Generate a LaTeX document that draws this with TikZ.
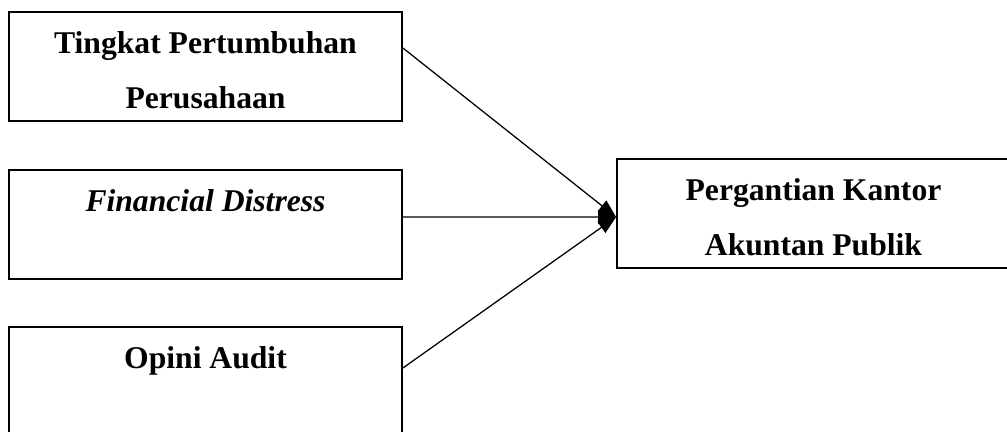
\documentclass[tikz,border=0pt]{standalone}
\usepackage{fontspec}
\setmainfont{Liberation Serif}
\usetikzlibrary{arrows.meta,calc}
\newcommand{\tailstrut}{\rule[-6.7pt]{0pt}{20pt}}
\begin{document}
\begin{tikzpicture}[x=0.025cm,y=-0.025cm,
	varbox/.style={ draw, line width=1.2pt, minimum width=9.825cm, minimum height=2.725cm, inner sep=0pt, align=center, font=\fontsize{22.5}{39}\selectfont\bfseries },
	link/.style={ line width=0.9pt, -{Triangle[length=4.5mm,width=3.4mm]} }
]
\useasboundingbox (0,0) rectangle (1007,432);

\node[varbox] at (205.5,66.5) (growth) {\strut Tingkat Pertumbuhan\\\tailstrut Perusahaan};
\node[varbox] at (205.5,224.5) (distress) {\strut\textit{Financial Distress}\\\tailstrut};
\node[varbox] at (205.5,381.5) (opinion) {\strut Opini Audit\\\tailstrut};
\node[varbox] at (813.5,213.5) (switch) {\strut Pergantian Kantor\\\tailstrut Akuntan Publik};
\coordinate (meet) at ($(switch.west)+(0,3.5)$);
\foreach \p/\dy in {growth/-18.5,distress/-7.5,opinion/-13.5} \draw[link] ($(\p.east)+(0,\dy)$) to (meet);

\end{tikzpicture}
\end{document}
